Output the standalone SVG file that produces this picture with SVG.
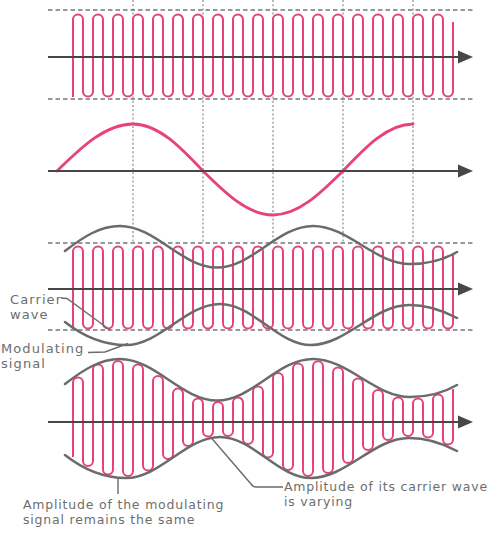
<svg xmlns="http://www.w3.org/2000/svg" width="500" height="536" viewBox="0 0 500 536">
<style>
.grid{stroke:#9a9a9a;stroke-width:1.4;stroke-dasharray:2 2.2;fill:none}
.dash{stroke:#777;stroke-width:1.3;stroke-dasharray:4.5 3;fill:none}
.pink{stroke:#e8427c;stroke-width:2;fill:none}
.sine{stroke:#e8427c;stroke-width:2.8;fill:none;stroke-linecap:round}
.axis{stroke:#474747;stroke-width:2}
.arrow{fill:#474747}
.env{stroke:#6b6b6b;stroke-width:2.5;fill:none;stroke-linecap:round}
.lead{stroke:#6b6b6b;stroke-width:1.4;fill:none}
.lbl{font-family:"DejaVu Sans",sans-serif;fill:#6e6e6e}
.big{font-size:13px;letter-spacing:1.1px}
.sm{font-size:12.5px;letter-spacing:0.8px}
</style>
<defs>
<path id="carrier" class="pink" d="M73,97V19.5a5 5 0 0 1 10 0V91.5a5 5 0 0 0 10 0V19.5a5 5 0 0 1 10 0V91.5a5 5 0 0 0 10 0V19.5a5 5 0 0 1 10 0V91.5a5 5 0 0 0 10 0V19.5a5 5 0 0 1 10 0V91.5a5 5 0 0 0 10 0V19.5a5 5 0 0 1 10 0V91.5a5 5 0 0 0 10 0V19.5a5 5 0 0 1 10 0V91.5a5 5 0 0 0 10 0V19.5a5 5 0 0 1 10 0V91.5a5 5 0 0 0 10 0V19.5a5 5 0 0 1 10 0V91.5a5 5 0 0 0 10 0V19.5a5 5 0 0 1 10 0V91.5a5 5 0 0 0 10 0V19.5a5 5 0 0 1 10 0V91.5a5 5 0 0 0 10 0V19.5a5 5 0 0 1 10 0V91.5a5 5 0 0 0 10 0V19.5a5 5 0 0 1 10 0V91.5a5 5 0 0 0 10 0V19.5a5 5 0 0 1 10 0V91.5a5 5 0 0 0 10 0V19.5a5 5 0 0 1 10 0V91.5a5 5 0 0 0 10 0V19.5a5 5 0 0 1 10 0V91.5a5 5 0 0 0 10 0V19.5a5 5 0 0 1 10 0V91.5a5 5 0 0 0 10 0V19.5a5 5 0 0 1 10 0V91.5a5 5 0 0 0 10 0V19.5a5 5 0 0 1 10 0V91.5a5 5 0 0 0 10 0V19.5a5 5 0 0 1 10 0V91.5a5 5 0 0 0 10 0V22"/>
<path id="envU" class="env" d="M65,384C83,370 100,359 120,359C155,359 182,400.5 217,400.5C252,400.5 278,359 313,359C348,359 375,397 410,397C428,397 445,392 457,385"/>
<path id="envL" class="env" d="M65,455C84,470 104,478 126,478C160,478 186,437 220,437C253,437 278,478 311,478C346,478 374,438 409,438C428,438 444,444 457,451"/>
<path id="arrow" class="arrow" d="M0,-6.5L15,0L0,6.5Z"/>
</defs>
<rect width="500" height="536" fill="#ffffff"/>
<g id="guides">
<path class="grid" d="M133,0V243M203,0V243M273,0V243M343,0V243M413,0V243"/>
<path class="dash" d="M48,10H473M48,99H473M48,243H473M48,330H473"/>
</g>
<g id="carrier-wave">
<use href="#carrier"/>
<line class="axis" x1="48" y1="57" x2="460" y2="57"/>
<use href="#arrow" x="458" y="57"/>
</g>
<g id="modulating-signal">
<path class="sine" d="M57,171C81.8,146.9 105.5,124 133,124C158.3,124 180.2,146.9 203,171C225.8,193.5 247.7,215 273,215C298.3,215 320.2,193.5 343,171C365.8,146.9 387.7,124 413,124"/>
<line class="axis" x1="48" y1="171" x2="460" y2="171"/>
<use href="#arrow" x="458" y="171"/>
</g>
<g id="overlay">
<use href="#carrier" y="232"/>
<line class="axis" x1="48" y1="289" x2="460" y2="289"/>
<use href="#arrow" x="458" y="289"/>
<use href="#envU" y="-133"/>
<use href="#envL" y="-133"/>
</g>
<g id="modulated-wave">
<path class="pink" d="M73,457V382.5a5 5 0 0 1 10 0V461a5 5 0 0 0 10 0V369.5a5 5 0 0 1 10 0V469.5a5 5 0 0 0 10 0V366a5 5 0 0 1 10 0V471a5 5 0 0 0 10 0V369.5a5 5 0 0 1 10 0V465.5a5 5 0 0 0 10 0V381a5 5 0 0 1 10 0V454a5 5 0 0 0 10 0V393.5a5 5 0 0 1 10 0V441a5 5 0 0 0 10 0V403.5a5 5 0 0 1 10 0V431.6a5 5 0 0 0 10 0V407a5 5 0 0 1 10 0V431a5 5 0 0 0 10 0V402.5a5 5 0 0 1 10 0V439a5 5 0 0 0 10 0V391.5a5 5 0 0 1 10 0V452.5a5 5 0 0 0 10 0V378a5 5 0 0 1 10 0V465a5 5 0 0 0 10 0V368.5a5 5 0 0 1 10 0V471a5 5 0 0 0 10 0V366.2a5 5 0 0 1 10 0V468a5 5 0 0 0 10 0V372.5a5 5 0 0 1 10 0V458a5 5 0 0 0 10 0V383.5a5 5 0 0 1 10 0V445a5 5 0 0 0 10 0V395a5 5 0 0 1 10 0V435a5 5 0 0 0 10 0V402.5a5 5 0 0 1 10 0V431a5 5 0 0 0 10 0V403.5a5 5 0 0 1 10 0V432.5a5 5 0 0 0 10 0V399.5a5 5 0 0 1 10 0V439.5a5 5 0 0 0 10 0V389"/>
<line class="axis" x1="48" y1="422" x2="460" y2="422"/>
<use href="#arrow" x="458" y="422"/>
<use href="#envU"/>
<use href="#envL"/>
</g>
<g id="connectors">
<path class="lead" d="M61,298L67,298.5L110,330"/>
<path class="lead" d="M88,352.5L105,352L128,343.5"/>
<path class="lead" d="M118,479V494"/>
<path class="lead" d="M211,437.5L251,484Q253,487 256,487L283,487"/>
</g>
<g id="label-carrier" class="lbl big">
<text x="10" y="303.5">Carrier</text>
<text x="10" y="318.5">wave</text>
</g>
<g id="label-modulating" class="lbl big">
<text x="1" y="353">Modulating</text>
<text x="1" y="368">signal</text>
</g>
<g id="label-amp-mod" class="lbl sm">
<text x="23" y="509">Amplitude of the modulating</text>
<text x="23" y="524">signal remains the same</text>
</g>
<g id="label-amp-carrier" class="lbl sm">
<text x="284" y="491">Amplitude of its carrier wave</text>
<text x="284" y="506">is varying</text>
</g>
</svg>
